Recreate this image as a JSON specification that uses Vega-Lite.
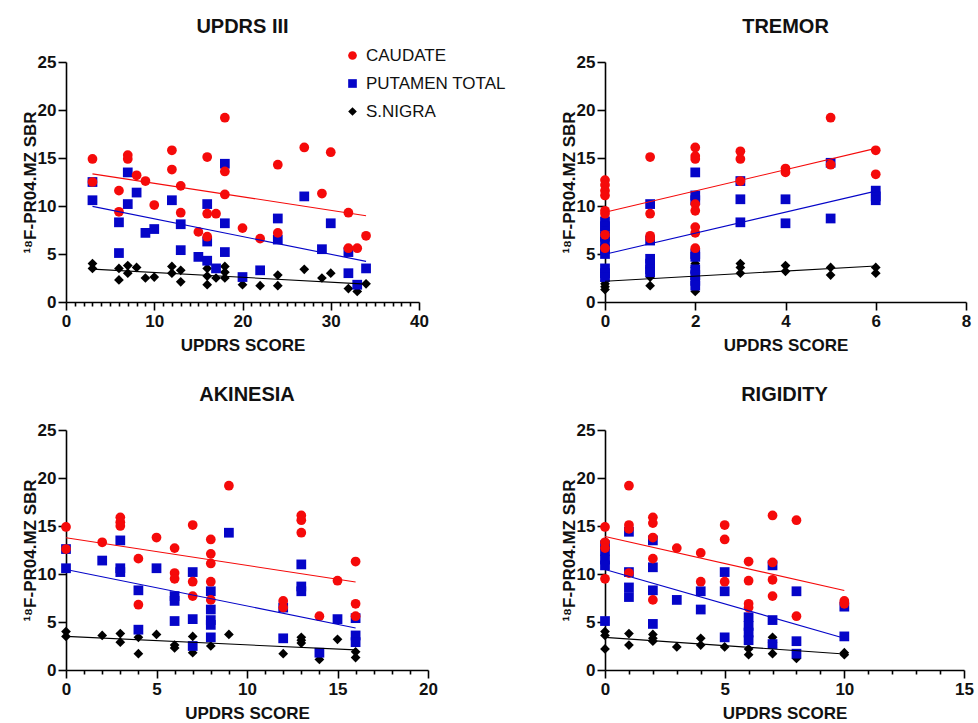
{
"$schema": "https://vega.github.io/schema/vega-lite/v6.json",
"padding": {"left": 21, "top": 17, "right": 5, "bottom": 5},
"background": "white",
"config": {
 "font": "Liberation Sans",
 "view": {"stroke": null},
 "axis": {"grid": false, "domainColor": "#000", "domainWidth": 1.6, "tickColor": "#000", "tickWidth": 1.6, "tickSize": 8, "labelFont": "Liberation Sans", "labelFontSize": 17, "labelFontWeight": "bold", "labelColor": "#111", "titleFont": "Liberation Sans", "titleFontSize": 17, "titleFontWeight": "bold", "titleColor": "#111", "labelPadding": 3, "labelFlush": false, "labelOverlap": false},
 "axisX": {"titlePadding": 8},
 "axisY": {"titlePadding": -2, "labelPadding": 2},
 "title": {"fontSize": 20, "font": "Liberation Sans", "fontWeight": "bold", "color": "#111", "offset": 16, "frame": "group", "anchor": "middle"},
 "legend": {"symbolSize": 75, "labelFontSize": 17, "labelFont": "Liberation Sans", "labelColor": "#111", "rowPadding": 10, "labelOffset": 5, "symbolStrokeWidth": 0}
},
"datasets": {
 "updrs": [
  {"region":"S.NIGRA","score":3,"sbr":4.0},{"region":"S.NIGRA","score":3,"sbr":3.5},{"region":"S.NIGRA","score":6,"sbr":3.5},{"region":"S.NIGRA","score":6,"sbr":2.3},{"region":"S.NIGRA","score":7,"sbr":3.8},{"region":"S.NIGRA","score":7,"sbr":3.0},{"region":"S.NIGRA","score":8,"sbr":3.6},{"region":"S.NIGRA","score":9,"sbr":2.5},{"region":"S.NIGRA","score":10,"sbr":2.6},{"region":"S.NIGRA","score":12,"sbr":3.7},{"region":"S.NIGRA","score":12,"sbr":3.0},{"region":"S.NIGRA","score":13,"sbr":3.3},{"region":"S.NIGRA","score":13,"sbr":2.1},{"region":"S.NIGRA","score":16,"sbr":3.5},{"region":"S.NIGRA","score":16,"sbr":2.7},{"region":"S.NIGRA","score":16,"sbr":1.8},{"region":"S.NIGRA","score":17,"sbr":2.5},{"region":"S.NIGRA","score":18,"sbr":3.7},{"region":"S.NIGRA","score":18,"sbr":3.1},{"region":"S.NIGRA","score":18,"sbr":2.5},{"region":"S.NIGRA","score":20,"sbr":1.8},{"region":"S.NIGRA","score":22,"sbr":1.7},{"region":"S.NIGRA","score":24,"sbr":2.8},{"region":"S.NIGRA","score":24,"sbr":1.7},{"region":"S.NIGRA","score":27,"sbr":3.4},{"region":"S.NIGRA","score":29,"sbr":2.5},{"region":"S.NIGRA","score":30,"sbr":3.0},{"region":"S.NIGRA","score":32,"sbr":1.4},{"region":"S.NIGRA","score":33,"sbr":1.1},{"region":"S.NIGRA","score":34,"sbr":1.9},
  {"region":"PUTAMEN TOTAL","score":3,"sbr":12.5},{"region":"PUTAMEN TOTAL","score":3,"sbr":10.6},{"region":"PUTAMEN TOTAL","score":6,"sbr":8.3},{"region":"PUTAMEN TOTAL","score":6,"sbr":5.1},{"region":"PUTAMEN TOTAL","score":7,"sbr":13.5},{"region":"PUTAMEN TOTAL","score":7,"sbr":10.2},{"region":"PUTAMEN TOTAL","score":8,"sbr":11.4},{"region":"PUTAMEN TOTAL","score":9,"sbr":7.2},{"region":"PUTAMEN TOTAL","score":10,"sbr":7.6},{"region":"PUTAMEN TOTAL","score":12,"sbr":10.6},{"region":"PUTAMEN TOTAL","score":13,"sbr":8.1},{"region":"PUTAMEN TOTAL","score":13,"sbr":5.4},{"region":"PUTAMEN TOTAL","score":15,"sbr":4.7},{"region":"PUTAMEN TOTAL","score":16,"sbr":10.2},{"region":"PUTAMEN TOTAL","score":16,"sbr":6.3},{"region":"PUTAMEN TOTAL","score":16,"sbr":4.3},{"region":"PUTAMEN TOTAL","score":17,"sbr":3.5},{"region":"PUTAMEN TOTAL","score":18,"sbr":14.4},{"region":"PUTAMEN TOTAL","score":18,"sbr":8.2},{"region":"PUTAMEN TOTAL","score":18,"sbr":5.2},{"region":"PUTAMEN TOTAL","score":20,"sbr":2.6},{"region":"PUTAMEN TOTAL","score":22,"sbr":3.3},{"region":"PUTAMEN TOTAL","score":24,"sbr":8.7},{"region":"PUTAMEN TOTAL","score":24,"sbr":6.5},{"region":"PUTAMEN TOTAL","score":27,"sbr":11.0},{"region":"PUTAMEN TOTAL","score":29,"sbr":5.5},{"region":"PUTAMEN TOTAL","score":30,"sbr":8.2},{"region":"PUTAMEN TOTAL","score":32,"sbr":5.2},{"region":"PUTAMEN TOTAL","score":32,"sbr":3.0},{"region":"PUTAMEN TOTAL","score":33,"sbr":1.8},{"region":"PUTAMEN TOTAL","score":34,"sbr":3.5},
  {"region":"CAUDATE","score":3,"sbr":14.9},{"region":"CAUDATE","score":3,"sbr":12.5},{"region":"CAUDATE","score":6,"sbr":11.6},{"region":"CAUDATE","score":6,"sbr":9.4},{"region":"CAUDATE","score":7,"sbr":15.3},{"region":"CAUDATE","score":7,"sbr":14.9},{"region":"CAUDATE","score":8,"sbr":13.2},{"region":"CAUDATE","score":9,"sbr":12.6},{"region":"CAUDATE","score":10,"sbr":10.1},{"region":"CAUDATE","score":12,"sbr":15.8},{"region":"CAUDATE","score":12,"sbr":13.8},{"region":"CAUDATE","score":13,"sbr":12.1},{"region":"CAUDATE","score":13,"sbr":9.3},{"region":"CAUDATE","score":15,"sbr":7.3},{"region":"CAUDATE","score":16,"sbr":15.1},{"region":"CAUDATE","score":16,"sbr":9.2},{"region":"CAUDATE","score":16,"sbr":6.8},{"region":"CAUDATE","score":17,"sbr":9.2},{"region":"CAUDATE","score":18,"sbr":19.2},{"region":"CAUDATE","score":18,"sbr":13.6},{"region":"CAUDATE","score":18,"sbr":11.2},{"region":"CAUDATE","score":20,"sbr":7.7},{"region":"CAUDATE","score":22,"sbr":6.6},{"region":"CAUDATE","score":24,"sbr":14.3},{"region":"CAUDATE","score":24,"sbr":7.2},{"region":"CAUDATE","score":27,"sbr":16.1},{"region":"CAUDATE","score":29,"sbr":11.3},{"region":"CAUDATE","score":30,"sbr":15.6},{"region":"CAUDATE","score":32,"sbr":9.3},{"region":"CAUDATE","score":32,"sbr":5.6},{"region":"CAUDATE","score":33,"sbr":5.6},{"region":"CAUDATE","score":34,"sbr":6.9}
 ],
 "tremor": [
  {"region":"S.NIGRA","score":0,"sbr":2.8},{"region":"S.NIGRA","score":0,"sbr":2.2},{"region":"S.NIGRA","score":0,"sbr":1.9},{"region":"S.NIGRA","score":0,"sbr":1.6},{"region":"S.NIGRA","score":0,"sbr":1.3},{"region":"S.NIGRA","score":1,"sbr":2.6},{"region":"S.NIGRA","score":1,"sbr":1.7},{"region":"S.NIGRA","score":2,"sbr":4.0},{"region":"S.NIGRA","score":2,"sbr":3.6},{"region":"S.NIGRA","score":2,"sbr":3.1},{"region":"S.NIGRA","score":2,"sbr":2.4},{"region":"S.NIGRA","score":2,"sbr":1.1},{"region":"S.NIGRA","score":3,"sbr":4.0},{"region":"S.NIGRA","score":3,"sbr":3.6},{"region":"S.NIGRA","score":3,"sbr":3.0},{"region":"S.NIGRA","score":4,"sbr":3.8},{"region":"S.NIGRA","score":4,"sbr":3.2},{"region":"S.NIGRA","score":5,"sbr":3.6},{"region":"S.NIGRA","score":5,"sbr":2.8},{"region":"S.NIGRA","score":6,"sbr":3.6},{"region":"S.NIGRA","score":6,"sbr":3.0},
  {"region":"PUTAMEN TOTAL","score":0,"sbr":8.4},{"region":"PUTAMEN TOTAL","score":0,"sbr":7.9},{"region":"PUTAMEN TOTAL","score":0,"sbr":7.4},{"region":"PUTAMEN TOTAL","score":0,"sbr":6.8},{"region":"PUTAMEN TOTAL","score":0,"sbr":6.3},{"region":"PUTAMEN TOTAL","score":0,"sbr":5.5},{"region":"PUTAMEN TOTAL","score":0,"sbr":5.0},{"region":"PUTAMEN TOTAL","score":0,"sbr":3.5},{"region":"PUTAMEN TOTAL","score":0,"sbr":3.0},{"region":"PUTAMEN TOTAL","score":0,"sbr":2.6},{"region":"PUTAMEN TOTAL","score":1,"sbr":10.2},{"region":"PUTAMEN TOTAL","score":1,"sbr":6.4},{"region":"PUTAMEN TOTAL","score":1,"sbr":4.5},{"region":"PUTAMEN TOTAL","score":1,"sbr":4.0},{"region":"PUTAMEN TOTAL","score":1,"sbr":3.4},{"region":"PUTAMEN TOTAL","score":1,"sbr":3.1},{"region":"PUTAMEN TOTAL","score":2,"sbr":13.5},{"region":"PUTAMEN TOTAL","score":2,"sbr":11.1},{"region":"PUTAMEN TOTAL","score":2,"sbr":10.6},{"region":"PUTAMEN TOTAL","score":2,"sbr":5.0},{"region":"PUTAMEN TOTAL","score":2,"sbr":4.7},{"region":"PUTAMEN TOTAL","score":2,"sbr":3.4},{"region":"PUTAMEN TOTAL","score":2,"sbr":2.8},{"region":"PUTAMEN TOTAL","score":2,"sbr":2.2},{"region":"PUTAMEN TOTAL","score":2,"sbr":1.7},{"region":"PUTAMEN TOTAL","score":3,"sbr":12.6},{"region":"PUTAMEN TOTAL","score":3,"sbr":10.7},{"region":"PUTAMEN TOTAL","score":3,"sbr":8.3},{"region":"PUTAMEN TOTAL","score":4,"sbr":10.7},{"region":"PUTAMEN TOTAL","score":4,"sbr":8.2},{"region":"PUTAMEN TOTAL","score":5,"sbr":14.5},{"region":"PUTAMEN TOTAL","score":5,"sbr":8.7},{"region":"PUTAMEN TOTAL","score":6,"sbr":11.6},{"region":"PUTAMEN TOTAL","score":6,"sbr":11.0},{"region":"PUTAMEN TOTAL","score":6,"sbr":10.6},
  {"region":"CAUDATE","score":0,"sbr":12.7},{"region":"CAUDATE","score":0,"sbr":12.2},{"region":"CAUDATE","score":0,"sbr":11.6},{"region":"CAUDATE","score":0,"sbr":11.1},{"region":"CAUDATE","score":0,"sbr":9.5},{"region":"CAUDATE","score":0,"sbr":9.2},{"region":"CAUDATE","score":0,"sbr":7.0},{"region":"CAUDATE","score":0,"sbr":5.6},{"region":"CAUDATE","score":1,"sbr":15.1},{"region":"CAUDATE","score":1,"sbr":9.2},{"region":"CAUDATE","score":1,"sbr":6.9},{"region":"CAUDATE","score":1,"sbr":6.6},{"region":"CAUDATE","score":2,"sbr":16.1},{"region":"CAUDATE","score":2,"sbr":15.2},{"region":"CAUDATE","score":2,"sbr":14.9},{"region":"CAUDATE","score":2,"sbr":10.2},{"region":"CAUDATE","score":2,"sbr":9.5},{"region":"CAUDATE","score":2,"sbr":7.8},{"region":"CAUDATE","score":2,"sbr":7.2},{"region":"CAUDATE","score":2,"sbr":5.6},{"region":"CAUDATE","score":3,"sbr":15.7},{"region":"CAUDATE","score":3,"sbr":14.9},{"region":"CAUDATE","score":3,"sbr":12.6},{"region":"CAUDATE","score":4,"sbr":13.9},{"region":"CAUDATE","score":4,"sbr":13.5},{"region":"CAUDATE","score":5,"sbr":19.2},{"region":"CAUDATE","score":5,"sbr":14.3},{"region":"CAUDATE","score":6,"sbr":15.8},{"region":"CAUDATE","score":6,"sbr":13.3}
 ],
 "akinesia": [
  {"region":"S.NIGRA","score":0,"sbr":4.0},{"region":"S.NIGRA","score":0,"sbr":3.5},{"region":"S.NIGRA","score":2,"sbr":3.6},{"region":"S.NIGRA","score":3,"sbr":3.8},{"region":"S.NIGRA","score":3,"sbr":2.9},{"region":"S.NIGRA","score":4,"sbr":3.4},{"region":"S.NIGRA","score":4,"sbr":1.7},{"region":"S.NIGRA","score":5,"sbr":3.7},{"region":"S.NIGRA","score":6,"sbr":2.6},{"region":"S.NIGRA","score":6,"sbr":2.3},{"region":"S.NIGRA","score":7,"sbr":3.5},{"region":"S.NIGRA","score":7,"sbr":1.8},{"region":"S.NIGRA","score":8,"sbr":2.5},{"region":"S.NIGRA","score":9,"sbr":3.7},{"region":"S.NIGRA","score":12,"sbr":1.7},{"region":"S.NIGRA","score":13,"sbr":3.4},{"region":"S.NIGRA","score":13,"sbr":3.1},{"region":"S.NIGRA","score":13,"sbr":2.8},{"region":"S.NIGRA","score":14,"sbr":1.1},{"region":"S.NIGRA","score":15,"sbr":3.2},{"region":"S.NIGRA","score":16,"sbr":1.9},{"region":"S.NIGRA","score":16,"sbr":1.3},
  {"region":"PUTAMEN TOTAL","score":0,"sbr":12.6},{"region":"PUTAMEN TOTAL","score":0,"sbr":10.6},{"region":"PUTAMEN TOTAL","score":2,"sbr":11.4},{"region":"PUTAMEN TOTAL","score":3,"sbr":13.5},{"region":"PUTAMEN TOTAL","score":3,"sbr":10.6},{"region":"PUTAMEN TOTAL","score":3,"sbr":10.2},{"region":"PUTAMEN TOTAL","score":4,"sbr":8.3},{"region":"PUTAMEN TOTAL","score":4,"sbr":4.2},{"region":"PUTAMEN TOTAL","score":5,"sbr":10.6},{"region":"PUTAMEN TOTAL","score":6,"sbr":7.7},{"region":"PUTAMEN TOTAL","score":6,"sbr":7.2},{"region":"PUTAMEN TOTAL","score":6,"sbr":5.1},{"region":"PUTAMEN TOTAL","score":7,"sbr":10.2},{"region":"PUTAMEN TOTAL","score":7,"sbr":5.3},{"region":"PUTAMEN TOTAL","score":7,"sbr":2.5},{"region":"PUTAMEN TOTAL","score":8,"sbr":8.2},{"region":"PUTAMEN TOTAL","score":8,"sbr":6.3},{"region":"PUTAMEN TOTAL","score":8,"sbr":5.2},{"region":"PUTAMEN TOTAL","score":8,"sbr":4.7},{"region":"PUTAMEN TOTAL","score":8,"sbr":3.4},{"region":"PUTAMEN TOTAL","score":9,"sbr":14.3},{"region":"PUTAMEN TOTAL","score":12,"sbr":6.5},{"region":"PUTAMEN TOTAL","score":12,"sbr":3.3},{"region":"PUTAMEN TOTAL","score":13,"sbr":11.0},{"region":"PUTAMEN TOTAL","score":13,"sbr":8.7},{"region":"PUTAMEN TOTAL","score":13,"sbr":8.2},{"region":"PUTAMEN TOTAL","score":14,"sbr":1.8},{"region":"PUTAMEN TOTAL","score":15,"sbr":5.3},{"region":"PUTAMEN TOTAL","score":16,"sbr":5.4},{"region":"PUTAMEN TOTAL","score":16,"sbr":3.6},{"region":"PUTAMEN TOTAL","score":16,"sbr":2.9},
  {"region":"CAUDATE","score":0,"sbr":14.9},{"region":"CAUDATE","score":0,"sbr":12.6},{"region":"CAUDATE","score":2,"sbr":13.3},{"region":"CAUDATE","score":3,"sbr":15.9},{"region":"CAUDATE","score":3,"sbr":15.4},{"region":"CAUDATE","score":3,"sbr":15.0},{"region":"CAUDATE","score":4,"sbr":11.6},{"region":"CAUDATE","score":4,"sbr":6.8},{"region":"CAUDATE","score":5,"sbr":13.8},{"region":"CAUDATE","score":6,"sbr":12.7},{"region":"CAUDATE","score":6,"sbr":10.1},{"region":"CAUDATE","score":6,"sbr":9.5},{"region":"CAUDATE","score":7,"sbr":15.1},{"region":"CAUDATE","score":7,"sbr":9.2},{"region":"CAUDATE","score":7,"sbr":7.7},{"region":"CAUDATE","score":8,"sbr":13.6},{"region":"CAUDATE","score":8,"sbr":12.1},{"region":"CAUDATE","score":8,"sbr":11.1},{"region":"CAUDATE","score":8,"sbr":9.2},{"region":"CAUDATE","score":8,"sbr":7.3},{"region":"CAUDATE","score":9,"sbr":19.2},{"region":"CAUDATE","score":12,"sbr":7.2},{"region":"CAUDATE","score":12,"sbr":6.5},{"region":"CAUDATE","score":13,"sbr":16.1},{"region":"CAUDATE","score":13,"sbr":15.6},{"region":"CAUDATE","score":13,"sbr":14.3},{"region":"CAUDATE","score":14,"sbr":5.6},{"region":"CAUDATE","score":15,"sbr":9.3},{"region":"CAUDATE","score":16,"sbr":11.3},{"region":"CAUDATE","score":16,"sbr":6.9},{"region":"CAUDATE","score":16,"sbr":5.6}
 ],
 "rigidity": [
  {"region":"S.NIGRA","score":0,"sbr":4.0},{"region":"S.NIGRA","score":0,"sbr":3.6},{"region":"S.NIGRA","score":0,"sbr":2.2},{"region":"S.NIGRA","score":1,"sbr":3.8},{"region":"S.NIGRA","score":1,"sbr":2.6},{"region":"S.NIGRA","score":2,"sbr":3.7},{"region":"S.NIGRA","score":2,"sbr":3.3},{"region":"S.NIGRA","score":2,"sbr":3.0},{"region":"S.NIGRA","score":3,"sbr":2.4},{"region":"S.NIGRA","score":4,"sbr":3.3},{"region":"S.NIGRA","score":4,"sbr":2.6},{"region":"S.NIGRA","score":5,"sbr":2.4},{"region":"S.NIGRA","score":6,"sbr":2.2},{"region":"S.NIGRA","score":6,"sbr":1.6},{"region":"S.NIGRA","score":7,"sbr":3.4},{"region":"S.NIGRA","score":7,"sbr":2.9},{"region":"S.NIGRA","score":7,"sbr":1.7},{"region":"S.NIGRA","score":8,"sbr":1.2},{"region":"S.NIGRA","score":10,"sbr":1.8},{"region":"S.NIGRA","score":10,"sbr":1.6},
  {"region":"PUTAMEN TOTAL","score":0,"sbr":13.0},{"region":"PUTAMEN TOTAL","score":0,"sbr":12.4},{"region":"PUTAMEN TOTAL","score":0,"sbr":11.5},{"region":"PUTAMEN TOTAL","score":0,"sbr":10.9},{"region":"PUTAMEN TOTAL","score":0,"sbr":5.1},{"region":"PUTAMEN TOTAL","score":1,"sbr":14.4},{"region":"PUTAMEN TOTAL","score":1,"sbr":10.2},{"region":"PUTAMEN TOTAL","score":1,"sbr":8.6},{"region":"PUTAMEN TOTAL","score":1,"sbr":7.6},{"region":"PUTAMEN TOTAL","score":2,"sbr":13.5},{"region":"PUTAMEN TOTAL","score":2,"sbr":10.7},{"region":"PUTAMEN TOTAL","score":2,"sbr":8.3},{"region":"PUTAMEN TOTAL","score":2,"sbr":4.8},{"region":"PUTAMEN TOTAL","score":3,"sbr":7.3},{"region":"PUTAMEN TOTAL","score":4,"sbr":8.2},{"region":"PUTAMEN TOTAL","score":4,"sbr":6.3},{"region":"PUTAMEN TOTAL","score":5,"sbr":10.2},{"region":"PUTAMEN TOTAL","score":5,"sbr":8.2},{"region":"PUTAMEN TOTAL","score":5,"sbr":3.4},{"region":"PUTAMEN TOTAL","score":6,"sbr":5.5},{"region":"PUTAMEN TOTAL","score":6,"sbr":4.6},{"region":"PUTAMEN TOTAL","score":6,"sbr":3.9},{"region":"PUTAMEN TOTAL","score":6,"sbr":3.1},{"region":"PUTAMEN TOTAL","score":7,"sbr":10.9},{"region":"PUTAMEN TOTAL","score":7,"sbr":5.2},{"region":"PUTAMEN TOTAL","score":7,"sbr":2.7},{"region":"PUTAMEN TOTAL","score":8,"sbr":8.2},{"region":"PUTAMEN TOTAL","score":8,"sbr":3.0},{"region":"PUTAMEN TOTAL","score":8,"sbr":1.7},{"region":"PUTAMEN TOTAL","score":10,"sbr":6.6},{"region":"PUTAMEN TOTAL","score":10,"sbr":3.5},
  {"region":"CAUDATE","score":0,"sbr":14.9},{"region":"CAUDATE","score":0,"sbr":13.3},{"region":"CAUDATE","score":0,"sbr":12.7},{"region":"CAUDATE","score":0,"sbr":9.5},{"region":"CAUDATE","score":1,"sbr":19.2},{"region":"CAUDATE","score":1,"sbr":15.1},{"region":"CAUDATE","score":1,"sbr":14.7},{"region":"CAUDATE","score":1,"sbr":10.1},{"region":"CAUDATE","score":2,"sbr":15.9},{"region":"CAUDATE","score":2,"sbr":15.3},{"region":"CAUDATE","score":2,"sbr":13.8},{"region":"CAUDATE","score":2,"sbr":11.6},{"region":"CAUDATE","score":2,"sbr":7.3},{"region":"CAUDATE","score":3,"sbr":12.7},{"region":"CAUDATE","score":4,"sbr":12.2},{"region":"CAUDATE","score":4,"sbr":9.2},{"region":"CAUDATE","score":5,"sbr":15.1},{"region":"CAUDATE","score":5,"sbr":13.6},{"region":"CAUDATE","score":5,"sbr":9.2},{"region":"CAUDATE","score":6,"sbr":11.3},{"region":"CAUDATE","score":6,"sbr":9.3},{"region":"CAUDATE","score":6,"sbr":6.9},{"region":"CAUDATE","score":6,"sbr":6.5},{"region":"CAUDATE","score":7,"sbr":16.1},{"region":"CAUDATE","score":7,"sbr":11.2},{"region":"CAUDATE","score":7,"sbr":9.4},{"region":"CAUDATE","score":7,"sbr":7.7},{"region":"CAUDATE","score":8,"sbr":15.6},{"region":"CAUDATE","score":8,"sbr":5.6},{"region":"CAUDATE","score":10,"sbr":7.2},{"region":"CAUDATE","score":10,"sbr":6.9}
 ]
},
"bounds": "flush",
"columns": 2,
"spacing": {"row": 128, "column": 177},
"concat": [
  {"title": "UPDRS III", "width": 353, "height": 240, "data": {"name": "updrs"},
   "layer": [
    {"mark": {"type": "point", "filled": true, "opacity": 1, "size": 95},
     "encoding": {
      "x": {"field": "score", "type": "quantitative", "scale": {"domain": [0, 40], "nice": false}, "axis": {"values": [0,1,2,3,4,5,6,7,8,9,10,11,12,13,14,15,16,17,18,19,20,21,22,23,24,25,26,27,28,29,30,31,32,33,34,35,36,37,38,39,40], "tickCount": 200, "format": "d", "labelOverlap": false, "labelExpr": "(datum.value % 10 == 0) ? datum.label : ''", "tickSize": {"condition": {"test": "datum.value % 10 == 0", "value": 8}, "value": 4}, "title": "UPDRS SCORE"}},
      "y": {"field": "sbr", "type": "quantitative", "scale": {"domain": [0, 25], "nice": false}, "axis": {"values": [0, 5, 10, 15, 20, 25], "title": "¹⁸F-PR04.MZ SBR"}},
      "color": {"field": "region", "type": "nominal", "scale": {"domain": ["CAUDATE", "PUTAMEN TOTAL", "S.NIGRA"], "range": ["#f50a0a", "#0505c8", "#000000"]}, "legend": {"title": null, "orient": "none", "legendX": 278, "legendY": -15}},
      "shape": {"field": "region", "type": "nominal", "scale": {"domain": ["CAUDATE", "PUTAMEN TOTAL", "S.NIGRA"], "range": ["circle", "square", "diamond"]}, "legend": {"title": null, "orient": "none", "legendX": 278, "legendY": -15}}
     }},
    {"transform": [{"regression": "sbr", "on": "score", "groupby": ["region"]}],
     "mark": {"type": "line", "strokeWidth": 1.1},
     "encoding": {
      "x": {"field": "score", "type": "quantitative"},
      "y": {"field": "sbr", "type": "quantitative"},
      "color": {"field": "region", "type": "nominal", "legend": null}
     }}
   ]
  },
  {"title": "TREMOR", "width": 361, "height": 240, "data": {"name": "tremor"},
   "layer": [
    {"mark": {"type": "point", "filled": true, "opacity": 1, "size": 95},
     "encoding": {
      "x": {"field": "score", "type": "quantitative", "scale": {"domain": [0, 8], "nice": false}, "axis": {"values": [0, 2, 4, 6, 8], "format": "d", "labelOverlap": false, "title": "UPDRS SCORE"}},
      "y": {"field": "sbr", "type": "quantitative", "scale": {"domain": [0, 25], "nice": false}, "axis": {"values": [0, 5, 10, 15, 20, 25], "title": "¹⁸F-PR04.MZ SBR"}},
      "color": {"field": "region", "type": "nominal", "legend": null},
      "shape": {"field": "region", "type": "nominal", "legend": null}
     }},
    {"transform": [{"regression": "sbr", "on": "score", "groupby": ["region"]}],
     "mark": {"type": "line", "strokeWidth": 1.1},
     "encoding": {
      "x": {"field": "score", "type": "quantitative"},
      "y": {"field": "sbr", "type": "quantitative"},
      "color": {"field": "region", "type": "nominal", "legend": null}
     }}
   ]
  },
  {"title": "AKINESIA", "width": 362, "height": 240, "data": {"name": "akinesia"},
   "layer": [
    {"mark": {"type": "point", "filled": true, "opacity": 1, "size": 95},
     "encoding": {
      "x": {"field": "score", "type": "quantitative", "scale": {"domain": [0, 20], "nice": false}, "axis": {"values": [0,1,2,3,4,5,6,7,8,9,10,11,12,13,14,15,16,17,18,19,20], "tickCount": 200, "format": "d", "labelOverlap": false, "labelExpr": "(datum.value % 5 == 0) ? datum.label : ''", "tickSize": {"condition": {"test": "datum.value % 5 == 0", "value": 8}, "value": 4}, "title": "UPDRS SCORE"}},
      "y": {"field": "sbr", "type": "quantitative", "scale": {"domain": [0, 25], "nice": false}, "axis": {"values": [0, 5, 10, 15, 20, 25], "title": "¹⁸F-PR04.MZ SBR"}},
      "color": {"field": "region", "type": "nominal", "legend": null},
      "shape": {"field": "region", "type": "nominal", "legend": null}
     }},
    {"transform": [{"regression": "sbr", "on": "score", "groupby": ["region"]}],
     "mark": {"type": "line", "strokeWidth": 1.1},
     "encoding": {
      "x": {"field": "score", "type": "quantitative"},
      "y": {"field": "sbr", "type": "quantitative"},
      "color": {"field": "region", "type": "nominal", "legend": null}
     }}
   ]
  },
  {"title": "RIGIDITY", "width": 359, "height": 240, "data": {"name": "rigidity"},
   "layer": [
    {"mark": {"type": "point", "filled": true, "opacity": 1, "size": 95},
     "encoding": {
      "x": {"field": "score", "type": "quantitative", "scale": {"domain": [0, 15], "nice": false}, "axis": {"values": [0,1,2,3,4,5,6,7,8,9,10,11,12,13,14,15], "tickCount": 200, "format": "d", "labelOverlap": false, "labelExpr": "(datum.value % 5 == 0) ? datum.label : ''", "tickSize": {"condition": {"test": "datum.value % 5 == 0", "value": 8}, "value": 4}, "title": "UPDRS SCORE"}},
      "y": {"field": "sbr", "type": "quantitative", "scale": {"domain": [0, 25], "nice": false}, "axis": {"values": [0, 5, 10, 15, 20, 25], "title": "¹⁸F-PR04.MZ SBR"}},
      "color": {"field": "region", "type": "nominal", "legend": null},
      "shape": {"field": "region", "type": "nominal", "legend": null}
     }},
    {"transform": [{"regression": "sbr", "on": "score", "groupby": ["region"]}],
     "mark": {"type": "line", "strokeWidth": 1.1},
     "encoding": {
      "x": {"field": "score", "type": "quantitative"},
      "y": {"field": "sbr", "type": "quantitative"},
      "color": {"field": "region", "type": "nominal", "legend": null}
     }}
   ]
  }
]
}
